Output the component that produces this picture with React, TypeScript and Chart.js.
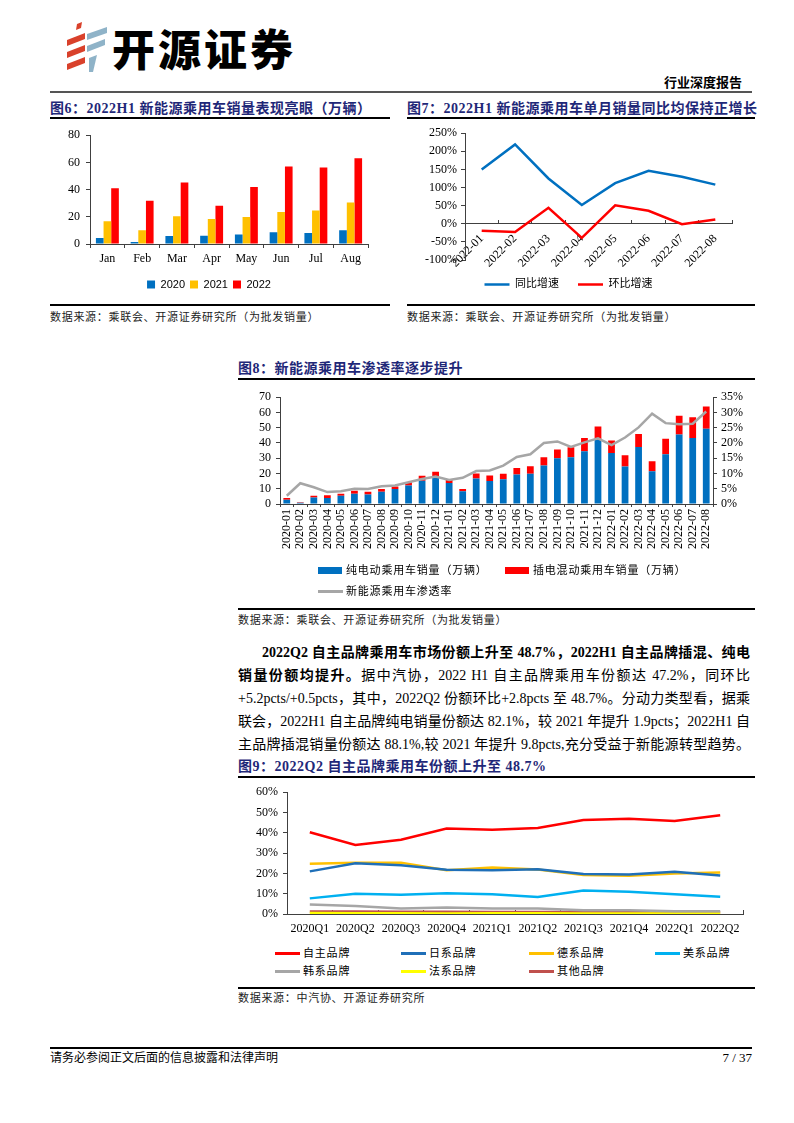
import React, { useEffect, useRef } from 'react';
import { Chart, registerables } from 'chart.js';

Chart.register(...registerables);

const SERIF = '"Liberation Serif", "Noto Sans CJK SC", serif';
const AXIS = '#404040';
const TITLE_COLOR = '#1F2878';

Chart.defaults.font.family = SERIF;
Chart.defaults.font.size = 12;
Chart.defaults.color = '#000';

// ---------- Figure 6 data ----------
const months6 = ['Jan', 'Feb', 'Mar', 'Apr', 'May', 'Jun', 'Jul', 'Aug'];
const years6 = ['2020', '2021', '2022'];
const sales2020 = [4.4, 1.5, 5.8, 6.0, 7.0, 8.7, 8.0, 10.2];
const sales2021 = [16.7, 10.2, 20.4, 18.4, 19.9, 23.5, 24.7, 30.5];
const sales2022 = [41.0, 31.8, 45.3, 28.1, 41.9, 57.0, 56.2, 63.0];
const colors6 = ['#0070C0', '#FFC000', '#FF0000'];

// ---------- Figure 7 data ----------
const months7 = ['2022-01', '2022-02', '2022-03', '2022-04', '2022-05', '2022-06', '2022-07', '2022-08'];
const yoyGrowth = [150, 219, 125, 52, 112, 146, 130, 108];
const momGrowth = [-19, -23, 44, -39, 51, 36, -1, 12];
const names7 = ['同比增速', '环比增速'];

// ---------- Figure 8 data ----------
const months8 = [
  '2020-01', '2020-02', '2020-03', '2020-04', '2020-05', '2020-06', '2020-07', '2020-08', '2020-09', '2020-10', '2020-11', '2020-12',
  '2021-01', '2021-02', '2021-03', '2021-04', '2021-05', '2021-06', '2021-07', '2021-08', '2021-09', '2021-10', '2021-11', '2021-12',
  '2022-01', '2022-02', '2022-03', '2022-04', '2022-05', '2022-06', '2022-07', '2022-08',
];
const bevSales = [
  2.8, 0.9, 4.3, 3.9, 5.4, 6.7, 6.3, 8.0, 9.8, 12.2, 15.2, 18.0,
  13.7, 8.3, 16.7, 15.0, 16.2, 19.3, 19.9, 25.2, 30.0, 30.6, 34.6, 42.2,
  33.5, 24.5, 37.4, 21.4, 32.6, 45.5, 43.3, 49.4,
];
const phevSales = [
  1.2, 0.2, 1.1, 1.8, 1.3, 2.0, 1.7, 1.8, 1.7, 2.1, 3.3, 3.1,
  2.2, 1.5, 3.3, 3.6, 3.7, 4.3, 4.8, 5.4, 5.7, 6.6, 8.7, 8.6,
  8.1, 7.4, 8.5, 6.6, 10.1, 12.3, 13.6, 14.5,
];
const penetration = [
  2.7, 6.8, 5.5, 3.9, 4.2, 5.0, 4.9, 5.8, 6.1, 7.1, 8.2, 9.0,
  7.9, 8.6, 10.8, 11.0, 12.6, 15.4, 16.3, 20.0, 20.5, 18.7, 20.2, 21.5,
  19.3, 21.8, 25.1, 29.6, 26.5, 26.1, 26.3, 30.3,
];
const names8 = ['纯电动乘用车销量（万辆）', '插电混动乘用车销量（万辆）', '新能源乘用车渗透率'];
const colors8 = ['#0070C0', '#FF0000', '#A6A6A6'];

// ---------- Figure 9 data ----------
const quarters9 = ['2020Q1', '2020Q2', '2020Q3', '2020Q4', '2021Q1', '2021Q2', '2021Q3', '2021Q4', '2022Q1', '2022Q2'];
const shareDomestic = [40.3, 34.0, 36.6, 42.1, 41.5, 42.4, 46.3, 46.9, 45.8, 48.7];
const shareJapanese = [21.0, 25.0, 24.0, 21.8, 21.6, 22.1, 19.7, 19.5, 20.8, 19.0];
const shareGerman = [24.7, 25.2, 25.3, 21.5, 22.9, 21.9, 19.2, 18.9, 20.0, 20.5];
const shareAmerican = [7.7, 10.0, 9.5, 10.2, 9.7, 8.4, 11.6, 11.0, 9.7, 8.5];
const shareKorean = [4.7, 3.9, 2.7, 3.2, 2.7, 2.7, 1.9, 1.9, 1.3, 1.3];
const shareFrench = [0.5, 0.4, 0.4, 0.3, 0.4, 0.4, 0.3, 0.2, 0.2, 0.2];
const shareOther = [1.2, 1.2, 1.1, 1.1, 1.0, 1.0, 1.0, 1.0, 0.9, 0.9];
const names9 = ['自主品牌', '日系品牌', '德系品牌', '美系品牌', '韩系品牌', '法系品牌', '其他品牌'];
const colors9 = ['#FF0000', '#1F6FB8', '#FFC000', '#00B0F0', '#A6A6A6', '#FFFF00', '#C0504D'];

// ---------- helpers ----------
function ChartCanvas({ make, left, top, width, height }: any) {
  const ref = useRef<HTMLCanvasElement | null>(null);
  useEffect(() => {
    if (!ref.current) return;
    const chart = new Chart(ref.current, make());
    return () => chart.destroy();
  }, []);
  return (
    <canvas
      ref={ref}
      width={width}
      height={height}
      style={{ position: 'absolute', left, top, width, height }}
    />
  );
}

const Text = ({ left, cy, size = 12, lh = 18, style, children }: any) => (
  <div
    style={{
      position: 'absolute',
      left,
      top: cy - lh / 2,
      height: lh,
      lineHeight: lh + 'px',
      fontSize: size,
      whiteSpace: 'nowrap',
      fontFamily: SERIF,
      color: '#000',
      ...style,
    }}
  >
    {children}
  </div>
);

const HLine = ({ x1, x2, y, h = 1.5, color = '#000' }: any) => (
  <div style={{ position: 'absolute', left: x1, top: y - h / 2, width: x2 - x1, height: h, background: color }} />
);

const Title = ({ left, cy, children }: any) => (
  <Text left={left} cy={cy} size={14} lh={20} style={{ fontWeight: 700, color: TITLE_COLOR, letterSpacing: 0.5 }}>
    {children}
  </Text>
);

const Source = ({ left, cy, children }: any) => (
  <Text left={left} cy={cy} size={11} lh={16} style={{ letterSpacing: 0.7, color: '#222' }}>
    {children}
  </Text>
);

const LegendItem = ({ x, cy, kind, color, text }: any) => (
  <>
    {kind === 'rect' ? (
      <div style={{ position: 'absolute', left: x, top: cy - 3.5, width: 24, height: 7, background: color }} />
    ) : (
      <div style={{ position: 'absolute', left: x, top: cy - 1.5, width: 25, height: 3, background: color }} />
    )}
    <Text left={x + 28} cy={cy} size={11} lh={16} style={{ letterSpacing: 0.8 }}>
      {text}
    </Text>
  </>
);

// ---------- chart configs ----------
const makeFig6 = (): any => ({
  type: 'bar',
  data: {
    labels: months6,
    datasets: [sales2020, sales2021, sales2022].map((d, i) => ({
      label: years6[i],
      data: d,
      backgroundColor: colors6[i],
      categoryPercentage: 0.66,
      barPercentage: 1.0,
    })),
  },
  options: {
    animation: false,
    responsive: false,
    devicePixelRatio: 1,
    events: [],
    layout: { padding: { top: 13, right: 22, left: 0, bottom: 0 } },
    plugins: {
      tooltip: { enabled: false },
      legend: {
        position: 'bottom',
        labels: {
          boxWidth: 8,
          boxHeight: 8,
          padding: 5,
          color: '#000',
          font: { family: '"Liberation Sans", Arial, sans-serif', size: 11 },
        },
      },
    },
    scales: {
      x: {
        grid: { display: true, drawOnChartArea: false, tickLength: 4, color: AXIS, offset: true },
        border: { color: AXIS },
        ticks: { padding: 4, maxRotation: 0, autoSkip: false, font: { size: 12 } },
        afterFit: (s: any) => { s.height = 30; },
      },
      y: {
        min: 0,
        max: 80,
        ticks: { stepSize: 20, padding: 6, autoSkip: false, font: { size: 12 } },
        grid: { drawOnChartArea: false, tickLength: 4, color: AXIS },
        border: { color: AXIS },
        afterFit: (s: any) => { s.width = 40; },
      },
    },
  },
});

const makeFig7 = (): any => ({
  type: 'line',
  data: {
    labels: months7,
    datasets: [yoyGrowth, momGrowth].map((d, i) => ({
      label: names7[i],
      data: d,
      borderColor: ['#0070C0', '#FF0000'][i],
      backgroundColor: ['#0070C0', '#FF0000'][i],
      borderWidth: 2.5,
      pointRadius: 0,
      tension: 0,
    })),
  },
  options: {
    animation: false,
    responsive: false,
    devicePixelRatio: 1,
    events: [],
    layout: { padding: { top: 6, right: 28, left: 0, bottom: 0 } },
    plugins: {
      tooltip: { enabled: false },
      legend: {
        position: 'bottom',
        labels: {
          usePointStyle: true,
          pointStyle: 'line',
          pointStyleWidth: 25,
          padding: 19,
          color: '#000',
          font: { size: 11 },
        },
      },
    },
    scales: {
      x: {
        position: { y: 0 },
        offset: true,
        grid: { display: true, drawOnChartArea: false, tickLength: -4, color: AXIS, offset: true },
        border: { color: AXIS },
        ticks: { minRotation: 45, maxRotation: 45, autoSkip: false, padding: 12, font: { size: 12 } },
      },
      y: {
        min: -100,
        max: 250,
        ticks: { stepSize: 50, padding: 4, autoSkip: false, font: { size: 12 }, callback: (v: any) => v + '%' },
        grid: { drawOnChartArea: false, tickLength: 4, color: AXIS },
        border: { color: AXIS },
        afterFit: (s: any) => { s.width = 60; },
      },
    },
  },
});

const makeFig8 = (): any => ({
  type: 'bar',
  data: {
    labels: months8,
    datasets: [
      {
        type: 'bar',
        label: names8[0],
        data: bevSales,
        backgroundColor: colors8[0],
        yAxisID: 'y',
        stack: 's',
        order: 2,
        barPercentage: 0.5,
        categoryPercentage: 1.0,
      },
      {
        type: 'bar',
        label: names8[1],
        data: phevSales,
        backgroundColor: colors8[1],
        yAxisID: 'y',
        stack: 's',
        order: 2,
        barPercentage: 0.5,
        categoryPercentage: 1.0,
      },
      {
        type: 'line',
        label: names8[2],
        data: penetration,
        borderColor: colors8[2],
        backgroundColor: colors8[2],
        borderWidth: 2.5,
        pointRadius: 0,
        tension: 0,
        yAxisID: 'y1',
        order: 1,
      },
    ],
  },
  options: {
    animation: false,
    responsive: false,
    devicePixelRatio: 1,
    events: [],
    layout: { padding: { top: 11.5, right: 0, left: 0, bottom: 0 } },
    plugins: { tooltip: { enabled: false }, legend: { display: false } },
    scales: {
      x: {
        stacked: true,
        grid: { display: true, drawOnChartArea: false, tickLength: 3, color: AXIS, offset: true },
        border: { color: AXIS },
        ticks: { minRotation: 90, maxRotation: 90, autoSkip: false, padding: 2, font: { size: 12 } },
        afterFit: (s: any) => { s.height = 59; },
      },
      y: {
        stacked: true,
        min: 0,
        max: 70,
        ticks: { stepSize: 10, padding: 5, autoSkip: false, font: { size: 12 } },
        grid: { drawOnChartArea: false, tickLength: 4, color: AXIS },
        border: { color: AXIS },
        afterFit: (s: any) => { s.width = 42; },
      },
      y1: {
        position: 'right',
        min: 0,
        max: 35,
        ticks: { stepSize: 5, padding: 4, autoSkip: false, font: { size: 12 }, callback: (v: any) => v + '%' },
        grid: { drawOnChartArea: false, tickLength: 4, color: AXIS },
        border: { color: AXIS },
        afterFit: (s: any) => { s.width = 47; },
      },
    },
  },
});

const makeFig9 = (): any => ({
  type: 'line',
  data: {
    labels: quarters9,
    datasets: [shareDomestic, shareJapanese, shareGerman, shareAmerican, shareKorean, shareFrench, shareOther].map(
      (d, i) => ({
        label: names9[i],
        data: d,
        borderColor: colors9[i],
        backgroundColor: colors9[i],
        borderWidth: 2.5,
        pointRadius: 0,
        tension: 0,
      })
    ),
  },
  options: {
    animation: false,
    responsive: false,
    devicePixelRatio: 1,
    events: [],
    layout: { padding: { top: 11, right: 17, left: 0, bottom: 0 } },
    plugins: { tooltip: { enabled: false }, legend: { display: false } },
    scales: {
      x: {
        offset: true,
        grid: { display: true, drawOnChartArea: false, tickLength: -4, color: AXIS, offset: true },
        border: { color: AXIS },
        ticks: { padding: 12, maxRotation: 0, autoSkip: false, font: { size: 12 } },
        afterFit: (s: any) => { s.height = 21; },
      },
      y: {
        min: 0,
        max: 60,
        ticks: { stepSize: 10, padding: 5, autoSkip: false, font: { size: 12 }, callback: (v: any) => v + '%' },
        grid: { drawOnChartArea: false, tickLength: 4, color: AXIS },
        border: { color: AXIS },
        afterFit: (s: any) => { s.width = 49; },
      },
    },
  },
});

// ---------- page ----------
const Logo = () => (
  <svg style={{ position: 'absolute', left: 64, top: 22 }} width={46} height={50} viewBox="0 0 46 50">
    <polygon points="13,2 18,0 17,6 12,8" fill="#D9412B" />
    <polygon points="3,18 21,11 21,17 3,24" fill="#D9412B" />
    <polygon points="3,30 21,23 21,29 3,36" fill="#D9412B" />
    <polygon points="3,42 21,35 21,41 3,48" fill="#D9412B" />
    <polygon points="23,12 43,5 43,11 23,18" fill="#8FB3C8" />
    <polygon points="23,24 41,17 41,23 23,30" fill="#8FB3C8" />
    <polygon points="25,36 33,33 29,50 25,50" fill="#8FB3C8" />
  </svg>
);

const P = ({ cy, left = 238, children }: any) => (
  <div
    style={{
      position: 'absolute',
      left,
      width: 750 - left,
      top: cy - 11.5,
      height: 23,
      lineHeight: '23px',
      fontSize: 14,
      fontFamily: SERIF,
      color: '#000',
      textAlign: 'justify',
      textAlignLast: 'justify',
      whiteSpace: 'nowrap',
    }}
  >
    {children}
  </div>
);

export default function App() {
  return (
    <div style={{ position: 'absolute', left: 0, top: 0, width: 794, height: 1123, background: '#fff', overflow: 'hidden' }}>
      <Logo />
      <Text left={112} cy={47} size={43} lh={52} style={{ fontFamily: '"Noto Sans CJK SC", sans-serif', fontWeight: 900, letterSpacing: 3 }}>
        开源证券
      </Text>
      <Text left={664} cy={82} size={13} lh={18} style={{ fontWeight: 700, fontFamily: '"Noto Sans CJK SC", serif' }}>
        行业深度报告
      </Text>
      <HLine x1={50} x2={752} y={92} h={2} color="#555" />

      {/* Figure 6 */}
      <Title left={50} cy={109}>图6：2022H1 新能源乘用车销量表现亮眼（万辆）</Title>
      <HLine x1={50} x2={390} y={118} h={1.5} />
      <ChartCanvas make={makeFig6} left={50} top={122} width={340} height={178} />
      <HLine x1={50} x2={390} y={305} h={1.5} />
      <Source left={50} cy={317}>数据来源：乘联会、开源证券研究所（为批发销量）</Source>

      {/* Figure 7 */}
      <Title left={407} cy={109}>图7：2022H1 新能源乘用车单月销量同比均保持正增长</Title>
      <HLine x1={407} x2={755} y={118} h={1.5} />
      <ChartCanvas make={makeFig7} left={405} top={122} width={355} height={178} />
      <HLine x1={407} x2={755} y={305} h={1.5} />
      <Source left={407} cy={317}>数据来源：乘联会、开源证券研究所（为批发销量）</Source>

      {/* Figure 8 */}
      <Title left={238} cy={369}>图8：新能源乘用车渗透率逐步提升</Title>
      <HLine x1={238} x2={755} y={379} h={1.5} />
      <ChartCanvas make={makeFig8} left={238} top={385} width={522} height={178} />
      <LegendItem x={318} cy={570} kind="rect" color={colors8[0]} text={names8[0]} />
      <LegendItem x={505} cy={570} kind="rect" color={colors8[1]} text={names8[1]} />
      <LegendItem x={318} cy={591} kind="line" color={colors8[2]} text={names8[2]} />
      <HLine x1={238} x2={755} y={609} h={1.5} />
      <Source left={238} cy={620}>数据来源：乘联会、开源证券研究所（为批发销量）</Source>

      {/* Paragraph */}
      <P cy={652} left={262}>
        <b>2022Q2 自主品牌乘用车市场份额上升至 48.7%，2022H1 自主品牌插混、纯电</b>
      </P>
      <P cy={675}>
        <b>销量份额均提升。</b>据中汽协，2022 H1 自主品牌乘用车份额达 47.2%，同环比
      </P>
      <P cy={698}>+5.2pcts/+0.5pcts，其中，2022Q2 份额环比+2.8pcts 至 48.7%。分动力类型看，据乘</P>
      <P cy={721}>联会，2022H1 自主品牌纯电销量份额达 82.1%，较 2021 年提升 1.9pcts；2022H1 自</P>
      <P cy={744}>主品牌插混销量份额达 88.1%,较 2021 年提升 9.8pcts,充分受益于新能源转型趋势。</P>

      {/* Figure 9 */}
      <Title left={238} cy={767}>图9：2022Q2 自主品牌乘用车份额上升至 48.7%</Title>
      <HLine x1={238} x2={755} y={777} h={1.5} />
      <ChartCanvas make={makeFig9} left={238} top={780} width={522} height={155} />
      <LegendItem x={275} cy={953} kind="line" color={colors9[0]} text={names9[0]} />
      <LegendItem x={401} cy={953} kind="line" color={colors9[1]} text={names9[1]} />
      <LegendItem x={529} cy={953} kind="line" color={colors9[2]} text={names9[2]} />
      <LegendItem x={655} cy={953} kind="line" color={colors9[3]} text={names9[3]} />
      <LegendItem x={275} cy={971} kind="line" color={colors9[4]} text={names9[4]} />
      <LegendItem x={401} cy={971} kind="line" color={colors9[5]} text={names9[5]} />
      <LegendItem x={529} cy={971} kind="line" color={colors9[6]} text={names9[6]} />
      <HLine x1={238} x2={755} y={988} h={1.5} />
      <Source left={238} cy={998}>数据来源：中汽协、开源证券研究所</Source>

      {/* Footer */}
      <HLine x1={50} x2={752} y={1048} h={1.5} />
      <Text left={50} cy={1058} size={12} lh={16}>请务必参阅正文后面的信息披露和法律声明</Text>
      <div style={{ position: 'absolute', left: 652, width: 100, top: 1050, lineHeight: '16px', fontSize: 13, textAlign: 'right', fontFamily: SERIF }}>
        7 / 37
      </div>
    </div>
  );
}
